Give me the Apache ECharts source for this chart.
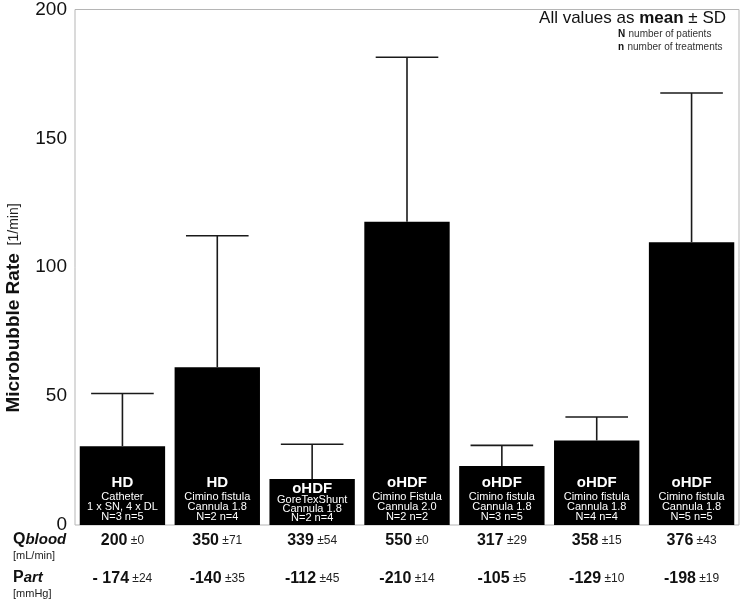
<!DOCTYPE html>
<html>
<head>
<meta charset="utf-8">
<script src="https://cdn.jsdelivr.net/npm/echarts@6/dist/echarts.min.js"></script>
<style>
  html, body { margin: 0; padding: 0; background: #fff; }
  #chart { width: 742px; height: 600px; }
</style>
</head>
<body>
<div id="chart"></div>
<script>
// groups
const modality = ['HD', 'HD', 'oHDF', 'oHDF', 'oHDF', 'oHDF', 'oHDF']
const access = ['Catheter', 'Cimino fistula', 'GoreTexShunt', 'Cimino Fistula', 'Cimino fistula', 'Cimino fistula', 'Cimino fistula']
const device = ['1 x SN, 4 x DL', 'Cannula 1.8', 'Cannula 1.8', 'Cannula 2.0', 'Cannula 1.8', 'Cannula 1.8', 'Cannula 1.8']
const patients = [3, 2, 2, 2, 3, 4, 5]
const treatments = [5, 4, 4, 2, 5, 4, 5]

// microbubble rate [1/min], mean and SD
const rateMean = [30.6, 61.2, 17.8, 117.7, 22.9, 32.8, 109.7]
const rateSD = [20.4, 51.0, 13.5, 63.8, 8.0, 9.1, 57.9]

// table under the axis
const qbloodMean = ['200', '350', '339', '550', '317', '358', '376']
const qbloodSD = [0, 71, 54, 0, 29, 15, 43]
const partMean = ['- 174', '-140', '-112', '-210', '-105', '-129', '-198']
const partSD = [24, 35, 45, 14, 5, 10, 19]

const yTicks = { min: 0, max: 200, interval: 50 }

const FONT = '"Liberation Sans", Arial, sans-serif'
const categories = modality.map((m, i) => m + ' ' + access[i] + ' ' + device[i])

const chart = echarts.init(document.getElementById('chart'))

const barData = rateMean.map((v, i) => {
  const item = { value: v }
  if (v < 20) {
    // short bar: squeeze the label lines together
    item.label = {
      rich: {
        t: { color: '#fff', fontSize: 15, fontWeight: 'bold', fontFamily: FONT, lineHeight: 12 },
        s: { color: '#fff', fontSize: 11, fontFamily: FONT, lineHeight: 9 }
      }
    }
  }
  return item
})

chart.setOption({
  animation: false,
  textStyle: { fontFamily: FONT },
  grid: {
    left: 75, right: 3, top: 8, bottom: 75,
    show: true, borderColor: '#b5b5b5', borderWidth: 1, backgroundColor: 'transparent'
  },
  xAxis: {
    type: 'category',
    data: categories,
    axisLine: { show: false },
    axisTick: { show: false },
    axisLabel: {
      interval: 0,
      margin: 7,
      formatter: (v, i) => `{b|${qbloodMean[i]}}{s| ±${qbloodSD[i]}}\n{g| }\n{b|${partMean[i]}}{s| ±${partSD[i]}}`,
      rich: {
        b: { fontSize: 16, fontWeight: 'bold', color: '#111', fontFamily: FONT, lineHeight: 18 },
        s: { fontSize: 12, color: '#222', fontFamily: FONT, lineHeight: 18 },
        g: { fontSize: 12, lineHeight: 20 }
      }
    }
  },
  yAxis: {
    type: 'value',
    min: yTicks.min,
    max: yTicks.max,
    interval: yTicks.interval,
    axisLine: { show: false },
    axisTick: { show: false },
    splitLine: { show: false },
    axisLabel: { color: '#111', fontSize: 19, margin: 8, fontFamily: FONT }
  },
  series: [
    {
      type: 'bar',
      data: barData,
      barCategoryGap: '10%',
      itemStyle: { color: '#000' },
      label: {
        show: true,
        position: 'insideBottom',
        distance: 3,
        formatter: p => {
          const i = p.dataIndex
          return `{t|${modality[i]}}\n{s|${access[i]}}\n{s|${device[i]}}\n{s|N=${patients[i]} n=${treatments[i]}}`
        },
        rich: {
          t: { color: '#fff', fontSize: 15, fontWeight: 'bold', fontFamily: FONT, lineHeight: 18 },
          s: { color: '#fff', fontSize: 11, fontFamily: FONT, lineHeight: 10 }
        }
      }
    },
    {
      type: 'custom',
      z: 3,
      data: rateMean.map((v, i) => [i, v, v + rateSD[i]]),
      renderItem: (params, api) => {
        const base = api.coord([api.value(0), api.value(1)])
        const top = api.coord([api.value(0), api.value(2)])
        const half = api.size([1, 0])[0] * 0.33
        const style = { stroke: '#1a1a1a', lineWidth: 1.6 }
        return {
          type: 'group',
          children: [
            { type: 'line', shape: { x1: base[0], y1: base[1], x2: top[0], y2: top[1] }, style },
            { type: 'line', shape: { x1: top[0] - half, y1: top[1], x2: top[0] + half, y2: top[1] }, style }
          ]
        }
      }
    }
  ],
  graphic: [
    {
      type: 'text',
      x: 14, y: 308,
      rotation: Math.PI / 2,
      style: {
        text: '{b|Microbubble Rate}{s|  [1/min]}',
        align: 'center',
        verticalAlign: 'middle',
        rich: {
          b: { fontSize: 19, fontWeight: 'bold', fill: '#111', fontFamily: FONT },
          s: { fontSize: 14, fill: '#222', fontFamily: FONT }
        }
      }
    },
    {
      type: 'text',
      x: 726, y: 18,
      style: {
        text: '{a|All values as }{b|mean}{a| ± SD}',
        align: 'right',
        verticalAlign: 'middle',
        rich: {
          a: { fontSize: 17, fill: '#111', fontFamily: FONT },
          b: { fontSize: 17, fontWeight: 'bold', fill: '#111', fontFamily: FONT }
        }
      }
    },
    {
      type: 'text',
      x: 618, y: 34,
      style: {
        text: '{b|N} {a|number of patients}',
        verticalAlign: 'middle',
        rich: {
          a: { fontSize: 10, fill: '#333', fontFamily: FONT },
          b: { fontSize: 10, fontWeight: 'bold', fill: '#111', fontFamily: FONT }
        }
      }
    },
    {
      type: 'text',
      x: 618, y: 47,
      style: {
        text: '{b|n} {a|number of treatments}',
        verticalAlign: 'middle',
        rich: {
          a: { fontSize: 10, fill: '#333', fontFamily: FONT },
          b: { fontSize: 10, fontWeight: 'bold', fill: '#111', fontFamily: FONT }
        }
      }
    },
    {
      type: 'text',
      x: 13, y: 540,
      style: {
        text: '{q|Q}{i|blood}',
        verticalAlign: 'middle',
        rich: {
          q: { fontSize: 16, fontWeight: 'bold', fill: '#111', fontFamily: FONT },
          i: { fontSize: 15, fontWeight: 'bold', fontStyle: 'italic', fill: '#111', fontFamily: FONT }
        }
      }
    },
    {
      type: 'text',
      x: 13, y: 556,
      style: { text: '[mL/min]', fontSize: 11, fill: '#222', fontFamily: FONT, verticalAlign: 'middle' }
    },
    {
      type: 'text',
      x: 13, y: 578,
      style: {
        text: '{q|P}{i|art}',
        verticalAlign: 'middle',
        rich: {
          q: { fontSize: 16, fontWeight: 'bold', fill: '#111', fontFamily: FONT },
          i: { fontSize: 15, fontWeight: 'bold', fontStyle: 'italic', fill: '#111', fontFamily: FONT }
        }
      }
    },
    {
      type: 'text',
      x: 13, y: 594,
      style: { text: '[mmHg]', fontSize: 11, fill: '#222', fontFamily: FONT, verticalAlign: 'middle' }
    }
  ]
})
</script>
</body>
</html>
